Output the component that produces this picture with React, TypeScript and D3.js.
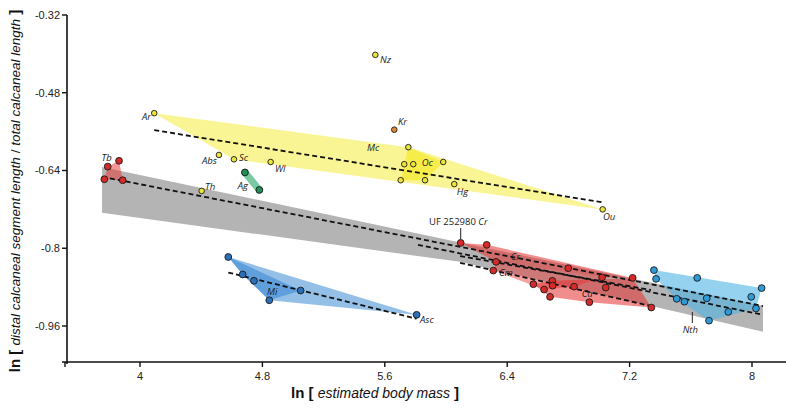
import React from "react";
import * as d3 from "d3";

// ---- data (x = ln body mass, y = ln ratio) ----
const yellowOuter: [number, number][] = [
  [4.093, -0.522], [4.614, -0.617], [4.854, -0.6225], [5.754, -0.592], [7.024, -0.72],
];
const ocPts: [number, number][] = [
  [5.754, -0.592], [5.727, -0.627], [5.786, -0.627], [5.982, -0.6225], [5.704, -0.66], [5.863, -0.66],
];
const yellowPts: [number, number][] = [
  [4.093, -0.522], [4.516, -0.608], [4.614, -0.617], [4.854, -0.6225], [4.403, -0.682],
  [5.538, -0.402], [5.754, -0.592], [5.727, -0.627], [5.786, -0.627], [5.982, -0.6225],
  [5.704, -0.66], [5.863, -0.66], [6.054, -0.668], [7.024, -0.72],
];
const krPt: [number, number] = [5.662, -0.556];
const tbPts: [number, number][] = [[3.789, -0.632], [3.863, -0.62], [3.767, -0.658], [3.887, -0.66]];
const agPts: [number, number][] = [[4.686, -0.644], [4.78, -0.68]];
const miPts: [number, number][] = [
  [4.577, -0.818], [4.671, -0.854], [4.745, -0.867], [4.845, -0.907], [5.05, -0.887],
];
const ascPt: [number, number] = [5.808, -0.937];
const crPts: [number, number][] = [
  [6.096, -0.789], [6.266, -0.793], [6.327, -0.828], [6.799, -0.841], [7.02, -0.86], [7.22, -0.861],
];
const cmPts: [number, number][] = [
  [6.309, -0.846], [6.327, -0.828], [6.571, -0.874], [6.641, -0.885], [6.695, -0.867],
  [6.697, -0.877], [6.837, -0.879], [7.02, -0.86],
];
const caPts: [number, number][] = [
  [6.571, -0.874], [6.695, -0.867], [6.68, -0.9], [6.937, -0.911], [7.044, -0.881], [7.22, -0.861], [7.342, -0.922],
];
const redPts: [number, number][] = [
  [6.096, -0.789], [6.266, -0.793], [6.327, -0.828], [6.309, -0.846], [6.799, -0.841], [6.571, -0.874],
  [6.641, -0.885], [6.695, -0.867], [6.697, -0.877], [6.68, -0.9], [6.837, -0.879], [6.937, -0.911],
  [7.02, -0.86], [7.044, -0.881], [7.22, -0.861], [7.342, -0.922],
];
const nthPts: [number, number][] = [
  [7.359, -0.845], [7.373, -0.863], [7.642, -0.861], [8.063, -0.882], [7.995, -0.9], [8.026, -0.924],
  [7.845, -0.931], [7.719, -0.949], [7.704, -0.903], [7.558, -0.91], [7.508, -0.904],
];
const greyBand: [number, number][] = [
  [3.752, -0.633], [8.072, -0.919], [8.072, -0.972], [6.092, -0.828], [3.752, -0.727],
];
const regLines: [number, number, number, number][] = [
  [4.093, -0.557, 7.033, -0.706],
  [3.752, -0.653, 8.072, -0.919],
  [5.817, -0.793, 8.072, -0.937],
  [4.577, -0.85, 5.808, -0.945],
  [6.092, -0.816, 7.34, -0.886],
  [6.092, -0.83, 7.342, -0.919],
];
const xTicks = [4, 4.8, 5.6, 6.4, 7.2, 8];
const yTicks = [-0.32, -0.48, -0.64, -0.8, -0.96];
const yTickLabels = ["-0.32", "-0.48", "-0.64", "-0.8", "-0.96"];
const labels: { t: string; x: number; y: number; a: string }[] = [
  { t: "Ar", x: 4.072, y: -0.536, a: "end" },
  { t: "Abs", x: 4.503, y: -0.627, a: "end" },
  { t: "Sc", x: 4.647, y: -0.62, a: "start" },
  { t: "Wl", x: 4.882, y: -0.644, a: "start" },
  { t: "Th", x: 4.425, y: -0.68, a: "start" },
  { t: "Ag", x: 4.706, y: -0.678, a: "end" },
  { t: "Tb", x: 3.748, y: -0.62, a: "start" },
  { t: "Mi", x: 4.83, y: -0.896, a: "start" },
  { t: "Asc", x: 5.83, y: -0.954, a: "start" },
  { t: "Nz", x: 5.569, y: -0.419, a: "start" },
  { t: "Kr", x: 5.686, y: -0.547, a: "start" },
  { t: "Mc", x: 5.484, y: -0.6, a: "start" },
  { t: "Oc", x: 5.841, y: -0.631, a: "start" },
  { t: "Hg", x: 6.07, y: -0.69, a: "start" },
  { t: "Ou", x: 7.026, y: -0.742, a: "start" },
  { t: "Cr", x: 6.423, y: -0.824, a: "start" },
  { t: "Cm", x: 6.346, y: -0.857, a: "start" },
  { t: "Ca", x: 6.887, y: -0.9, a: "start" },
  { t: "Nth", x: 7.547, y: -0.974, a: "start" },
];

const xs = d3.scaleLinear().domain([4, 8]).range([140, 752]);
const ys = d3.scaleLinear().domain([-0.32, -0.96]).range([15, 326]);

const toPx = (pts: [number, number][]) => pts.map(([a, b]) => [xs(a), ys(b)] as [number, number]);
const hullPath = (pts: [number, number][]) => {
  const h = d3.polygonHull(toPx(pts)) || toPx(pts);
  return "M" + h.map((p) => p.join(",")).join("L") + "Z";
};
const polyPath = (pts: [number, number][]) => "M" + toPx(pts).map((p) => p.join(",")).join("L") + "Z";

const Dot = ({ p, fill, r = 3.4 }: { p: [number, number]; fill: string; r?: number }) => (
  <circle cx={xs(p[0])} cy={ys(p[1])} r={r} fill={fill} stroke="#1a1a1a" strokeWidth={0.9} />
);

export default function App() {
  const axisFont = "Liberation Sans, Arial, sans-serif";
  const lblFont = "Open Sans, DejaVu Sans, sans-serif";
  return (
    <svg width={786} height={408} style={{ position: "absolute", left: 0, top: 0, background: "#fff" }}>
      {/* grey band */}
      <path d={polyPath(greyBand)} fill="#b4b4b4" />
      {/* yellow */}
      <path d={hullPath(yellowOuter)} fill="#f2e600" fillOpacity={0.42} />
      <path d={hullPath(ocPts)} fill="#f2e600" fillOpacity={0.5} />
      {/* Tb */}
      <path d={hullPath(tbPts)} fill="#e8302f" fillOpacity={0.5} />
      {/* red */}
      <path d={hullPath(crPts)} fill="#e8302f" fillOpacity={0.55} />
      <path d={hullPath(cmPts)} fill="#e8302f" fillOpacity={0.45} />
      <path d={hullPath(caPts)} fill="#e8302f" fillOpacity={0.55} />
      {/* blue */}
      <path d={hullPath([...miPts, ascPt])} fill="#2a7fd0" fillOpacity={0.5} />
      <path d={hullPath(miPts)} fill="#2a7fd0" fillOpacity={0.5} />
      {/* cyan */}
      <path d={hullPath(nthPts)} fill="#4fb4e4" fillOpacity={0.6} />
      {/* green Ag */}
      <line x1={xs(agPts[0][0])} y1={ys(agPts[0][1])} x2={xs(agPts[1][0])} y2={ys(agPts[1][1])}
        stroke="#6cc49a" strokeWidth={7} strokeLinecap="round" opacity={0.9} />
      {/* regression lines */}
      {regLines.map((l, i) => (
        <line key={i} x1={xs(l[0])} y1={ys(l[1])} x2={xs(l[2])} y2={ys(l[3])}
          stroke="#111" strokeWidth={1.8} strokeDasharray="5,3" />
      ))}
      {/* leader lines */}
      <line x1={xs(6.096)} x2={xs(6.096)} y1={228} y2={239} stroke="#222" strokeWidth={1} />
      <line x1={xs(7.61)} x2={xs(7.61)} y1={312} y2={323} stroke="#222" strokeWidth={1} />
      {/* points */}
      {yellowPts.map((p, i) => <Dot key={"y" + i} p={p} fill="#ebe43a" r={2.8} />)}
      <Dot p={krPt} fill="#e0883a" r={2.8} />
      {tbPts.map((p, i) => <Dot key={"t" + i} p={p} fill="#d42a2a" />)}
      {agPts.map((p, i) => <Dot key={"g" + i} p={p} fill="#1f8f55" />)}
      {[...miPts, ascPt].map((p, i) => <Dot key={"b" + i} p={p} fill="#2d6fb5" />)}
      {redPts.map((p, i) => <Dot key={"r" + i} p={p} fill="#d42a2a" />)}
      {nthPts.map((p, i) => <Dot key={"c" + i} p={p} fill="#2f9ad6" />)}
      {/* labels */}
      {labels.map((l, i) => (
        <text key={"l" + i} x={xs(l.x)} y={ys(l.y)} textAnchor={l.a as any} fontFamily={lblFont}
          fontStyle="italic" fontSize={9.5} fill="#222">{l.t}</text>
      ))}
      <text x={429} y={224.5} fontFamily={lblFont} fontSize={9.5} fill="#222">
        UF 252980 <tspan fontStyle="italic">Cr</tspan>
      </text>
      {/* axes */}
      <line x1={67} x2={67} y1={15} y2={364} stroke="#111" strokeWidth={1.6} />
      <line x1={62} x2={786} y1={362} y2={362} stroke="#111" strokeWidth={1.6} />
      <line x1={65} x2={65} y1={362} y2={367} stroke="#111" strokeWidth={1.4} />
      {yTicks.map((t, i) => (
        <g key={"yt" + i}>
          <line x1={62} x2={67} y1={ys(t)} y2={ys(t)} stroke="#111" strokeWidth={1.4} />
          <text x={60} y={ys(t)} dy="0.35em" textAnchor="end" fontFamily={axisFont} fontSize={11} fill="#222">
            {yTickLabels[i]}
          </text>
        </g>
      ))}
      {xTicks.map((t, i) => (
        <g key={"xt" + i}>
          <line x1={xs(t)} x2={xs(t)} y1={362} y2={367} stroke="#111" strokeWidth={1.4} />
          <text x={xs(t)} y={380} textAnchor="middle" fontFamily={axisFont} fontSize={11} fill="#222">
            {d3.format("")(t)}
          </text>
        </g>
      ))}
      <text x={375} y={398} textAnchor="middle" fontFamily={axisFont} fontSize={14} fill="#111">
        <tspan fontWeight="bold" fontSize={15}>ln [ </tspan>
        <tspan fontStyle="italic">estimated body mass </tspan>
        <tspan fontWeight="bold" fontSize={15}> ]</tspan>
      </text>
      <text transform="translate(20,191) rotate(-90)" textAnchor="middle" fontFamily={axisFont} fontSize={13.5} fill="#111">
        <tspan fontWeight="bold" fontSize={15}>ln [ </tspan>
        <tspan fontStyle="italic">distal calcaneal segment length</tspan>
        <tspan>{"  /  "}</tspan>
        <tspan fontStyle="italic">total calcaneal length</tspan>
        <tspan fontWeight="bold" fontSize={15}>{"  ]"}</tspan>
      </text>
    </svg>
  );
}
